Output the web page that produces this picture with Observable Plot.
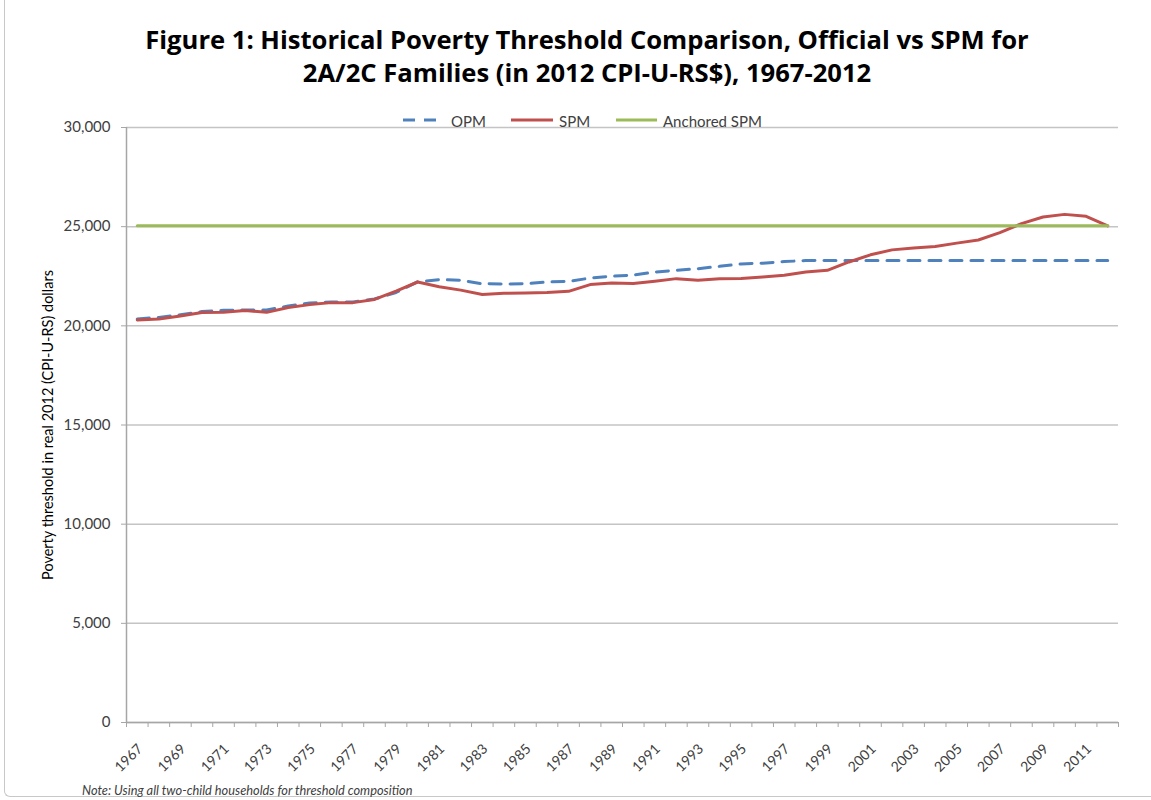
<!DOCTYPE html>
<html>
<head>
<meta charset="utf-8">
<script src="https://cdn.jsdelivr.net/npm/d3@7"></script>
<script src="https://cdn.jsdelivr.net/npm/@observablehq/plot@0.6"></script>
<style>
  html, body { margin: 0; padding: 0; background: #fff; }
  #wrap { position: relative; width: 1151px; height: 800px; overflow: hidden; font-family: Lato, "Open Sans", sans-serif; }
  #frame { position: absolute; left: 4px; top: -10px; width: 1200px; height: 807px; border-left: 1.5px solid #c8c8c8; border-bottom: 1.5px solid #c8c8c8; border-bottom-left-radius: 6px; box-sizing: border-box; }
  #title { position: absolute; left: 0; top: 23px; width: 1174px; text-align: center; font-family: "Open Sans", Lato, sans-serif; font-weight: bold; font-size: 25.6px; line-height: 33px; color: #000; }
  #chart { position: absolute; left: 0; top: 0; }
  .leg { position: absolute; top: 112px; font-size: 15px; color: #404040; line-height: 18px; white-space: nowrap; }
  .leg svg { position: absolute; }
  #note { position: absolute; left: 82px; top: 783px; font-size: 12.8px; line-height: 15px; font-style: italic; color: #404040; white-space: nowrap; }
</style>
</head>
<body>
<div id="wrap">
  <div id="frame"></div>
  <div id="chart"></div>
  <div id="title">Figure 1: Historical Poverty Threshold Comparison, Official vs SPM for<br>2A/2C Families (in 2012 CPI-U-RS$), 1967-2012</div>
  <div id="legend"></div>
  <div id="note">Note: Using all two-child households for threshold composition</div>
</div>
<script>
// ---- data ----
const years = [1967,1968,1969,1970,1971,1972,1973,1974,1975,1976,1977,1978,1979,1980,1981,1982,1983,1984,1985,1986,1987,1988,1989,1990,1991,1992,1993,1994,1995,1996,1997,1998,1999,2000,2001,2002,2003,2004,2005,2006,2007,2008,2009,2010,2011,2012];
const opm = [20350,20420,20560,20720,20780,20800,20800,21000,21150,21200,21200,21350,21680,22220,22330,22300,22120,22110,22120,22210,22240,22410,22500,22560,22710,22800,22880,23000,23120,23160,23240,23290,23300,23300,23300,23300,23300,23300,23300,23300,23300,23300,23300,23300,23300,23300];
const spm = [20300,20350,20500,20670,20690,20770,20680,20920,21070,21170,21170,21330,21750,22210,21970,21800,21580,21640,21660,21680,21740,22080,22160,22140,22250,22380,22300,22380,22390,22460,22550,22710,22800,23220,23580,23830,23930,24000,24170,24330,24700,25150,25490,25620,25520,25040];
const anchoredSpm = [25040,25040,25040,25040,25040,25040,25040,25040,25040,25040,25040,25040,25040,25040,25040,25040,25040,25040,25040,25040,25040,25040,25040,25040,25040,25040,25040,25040,25040,25040,25040,25040,25040,25040,25040,25040,25040,25040,25040,25040,25040,25040,25040,25040,25040,25040];
const seriesNames = ["OPM", "SPM", "Anchored SPM"];
const seriesColors = ["#4F81BD", "#C0504D", "#9BBB59"];
const xTickLabels = ["1967","1969","1971","1973","1975","1977","1979","1981","1983","1985","1987","1989","1991","1993","1995","1997","1999","2001","2003","2005","2007","2009","2011"];
const yTicks = [0,5000,10000,15000,20000,25000,30000];
const yLabel = "Poverty threshold in real 2012 (CPI-U-RS) dollars";

// ---- build ----
const seriesValues = [opm, spm, anchoredSpm];
const rows = (k) => years.map((yr, i) => ({year: yr, value: seriesValues[k][i], series: seriesNames[k]}));
const x0 = years[0] - 0.5, x1 = years[years.length - 1] + 0.5;
const boundaries = years.map(y => y - 0.5).concat([x1]);
const axisGray = "#a6a6a6";

const chart = Plot.plot({
  width: 1151, height: 800,
  marginLeft: 126, marginRight: 33, marginTop: 127, marginBottom: 78,
  style: {fontFamily: "Lato, 'Open Sans', sans-serif", background: "transparent", overflow: "visible"},
  x: {type: "linear", domain: [x0, x1]},
  y: {domain: [0, 30000]},
  marks: [
    Plot.gridY(yTicks, {stroke: "#c4c4c4", strokeOpacity: 1, strokeWidth: 1.5}),
    Plot.axisY({ticks: yTicks, tickFormat: d3.format(","), tickSize: 5, tickPadding: 11, stroke: axisGray, fill: "#404040", fontSize: 15, label: null}),
    Plot.ruleX([x0], {stroke: axisGray, strokeWidth: 1.5}),
    Plot.ruleY([0], {stroke: axisGray, strokeWidth: 1.5}),
    Plot.axisX({ticks: boundaries, tickFormat: () => "", tickSize: 5, stroke: axisGray, label: null}),
    Plot.axisX({ticks: xTickLabels.map(Number), tickFormat: d => String(d), tickSize: 0, tickPadding: 24, dx: 3, tickRotate: -45, fill: "#404040", fontSize: 14, label: null}),
    Plot.text([yLabel], {frameAnchor: "left", textAnchor: "middle", rotate: -90, dx: -78, fontSize: 14.5, fill: "#000"}),
    Plot.line(rows(0), {x: "year", y: "value", stroke: seriesColors[0], strokeWidth: 3, strokeDasharray: "12,9"}),
    Plot.line(rows(1), {x: "year", y: "value", stroke: seriesColors[1], strokeWidth: 3}),
    Plot.line(rows(2), {x: "year", y: "value", stroke: seriesColors[2], strokeWidth: 3})
  ]
});
document.getElementById("chart").appendChild(chart);

// ---- legend ----
const legendPos = [{line: 403, text: 451}, {line: 511, text: 559}, {line: 616, text: 663}];
const leg = document.getElementById("legend");
seriesNames.forEach((name, i) => {
  const d = document.createElement("div");
  d.className = "leg";
  d.style.left = legendPos[i].line + "px";
  const w = legendPos[i].text - legendPos[i].line;
  const dash = i === 0 ? ' stroke-dasharray="12,9"' : '';
  d.innerHTML = `<svg width="${w}" height="18" style="left:0;top:0"><line x1="0" x2="${w - 6}" y1="8" y2="8" stroke="${seriesColors[i]}" stroke-width="3"${dash}/></svg><span style="margin-left:${w}px">${name}</span>`;
  leg.appendChild(d);
});
</script>
</body>
</html>
